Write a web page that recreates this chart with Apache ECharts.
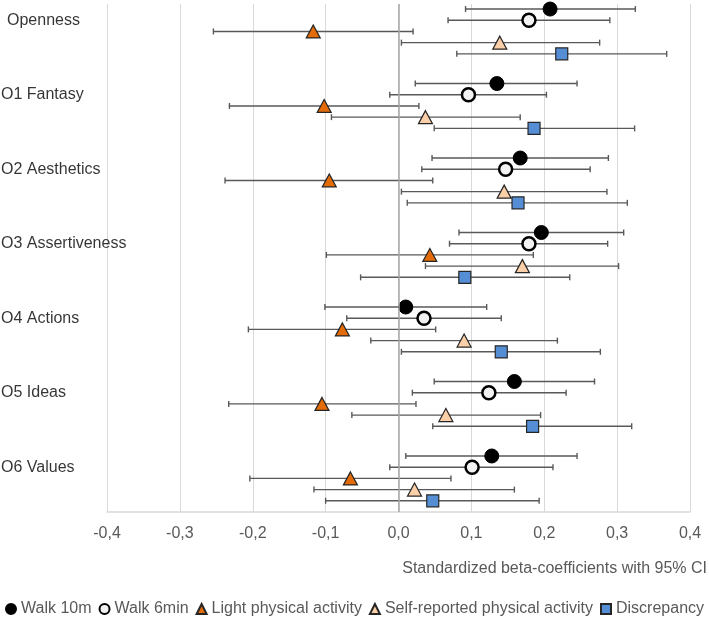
<!DOCTYPE html>
<html>
<head>
<meta charset="utf-8">
<script src="https://cdn.jsdelivr.net/npm/echarts@6/dist/echarts.min.js"></script>
<style>
html,body{margin:0;padding:0;background:#fff;}
#chart{width:709px;height:620px;}
</style>
</head>
<body>
<div id="chart"></div>
<script>
// ---- Data ----
var groups = ['Openness','O1 Fantasy','O2 Aesthetics','O3 Assertiveness','O4 Actions','O5 Ideas','O6 Values'];
var seriesNames = ['Walk 10m','Walk 6min','Light physical activity','Self-reported physical activity','Discrepancy'];

var walk10m      = [0.208, 0.135, 0.167, 0.196, 0.010, 0.159, 0.128];
var walk10mLow   = [0.092, 0.023, 0.046, 0.083, -0.101, 0.049, 0.010];
var walk10mHigh  = [0.325, 0.245, 0.288, 0.309, 0.121, 0.269, 0.245];

var walk6min     = [0.179, 0.096, 0.147, 0.179, 0.035, 0.124, 0.101];
var walk6minLow  = [0.068, -0.012, 0.032, 0.070, -0.071, 0.019, -0.012];
var walk6minHigh = [0.290, 0.203, 0.263, 0.287, 0.141, 0.230, 0.212];

var lightPA      = [-0.117, -0.102, -0.095, 0.043, -0.077, -0.105, -0.066];
var lightPALow   = [-0.254, -0.232, -0.238, -0.099, -0.206, -0.233, -0.204];
var lightPAHigh  = [0.020, 0.028, 0.047, 0.185, 0.051, 0.024, 0.072];

var selfPA       = [0.139, 0.037, 0.145, 0.170, 0.090, 0.065, 0.022];
var selfPALow    = [0.004, -0.092, 0.004, 0.037, -0.038, -0.064, -0.116];
var selfPAHigh   = [0.276, 0.167, 0.286, 0.302, 0.218, 0.195, 0.159];

var discrepancy     = [0.224, 0.186, 0.164, 0.091, 0.141, 0.184, 0.047];
var discrepancyLow  = [0.080, 0.049, 0.012, -0.052, 0.004, 0.047, -0.100];
var discrepancyHigh = [0.368, 0.324, 0.314, 0.235, 0.277, 0.320, 0.193];

var xTicks = [-0.4, -0.3, -0.2, -0.1, 0.0, 0.1, 0.2, 0.3, 0.4];

// ---- Build ----
var GROUP_STEP = 6.65;
function rowY(g, s) { return g * GROUP_STEP + s; }

var est = [walk10m, walk6min, lightPA, selfPA, discrepancy];
var lows = [walk10mLow, walk6minLow, lightPALow, selfPALow, discrepancyLow];
var highs = [walk10mHigh, walk6minHigh, lightPAHigh, selfPAHigh, discrepancyHigh];

var FONT = '"Liberation Sans", Arial, sans-serif';

var styles = [
  {symbol:'circle', size:14, itemStyle:{color:'#000000', borderColor:'#000000', borderWidth:1, opacity:1}},
  {symbol:'circle', size:13, itemStyle:{color:'#F2F2F2', borderColor:'#000000', borderWidth:2.5, opacity:1}},
  {symbol:'triangle', size:[14,13], itemStyle:{color:'#E36C09', borderColor:'#262626', borderWidth:1.2, opacity:1}},
  {symbol:'triangle', size:[14,13], itemStyle:{color:'#FBCFA8', borderColor:'#262626', borderWidth:1.2, opacity:1}},
  {symbol:'rect', size:12, itemStyle:{color:'#558ED5', borderColor:'#262626', borderWidth:1.2, opacity:1}}
];

var ciData = [];
for (var s = 0; s < 5; s++) {
  for (var g = 0; g < groups.length; g++) {
    ciData.push([lows[s][g], highs[s][g], rowY(g, s)]);
  }
}

var series = [];
series.push({
  name: 'CI',
  type: 'custom',
  z: 1,
  silent: true,
  data: ciData,
  encode: {x: [0, 1], y: 2},
  renderItem: function (params, api) {
    var y = api.value(2);
    var p1 = api.coord([api.value(0), y]);
    var p2 = api.coord([api.value(1), y]);
    var h = 3;
    var st = {stroke: '#595959', lineWidth: 1.4};
    return {
      type: 'group',
      children: [
        {type: 'line', shape: {x1: p1[0], y1: p1[1], x2: p2[0], y2: p2[1]}, style: st},
        {type: 'line', shape: {x1: p1[0], y1: p1[1] - h, x2: p1[0], y2: p1[1] + h}, style: st},
        {type: 'line', shape: {x1: p2[0], y1: p2[1] - h, x2: p2[0], y2: p2[1] + h}, style: st}
      ]
    };
  }
});

for (var s2 = 0; s2 < 5; s2++) {
  var d = [];
  for (var g2 = 0; g2 < groups.length; g2++) d.push([est[s2][g2], rowY(g2, s2)]);
  series.push({
    name: seriesNames[s2],
    type: 'scatter',
    z: 3,
    symbol: styles[s2].symbol,
    symbolSize: styles[s2].size,
    itemStyle: styles[s2].itemStyle,
    emphasis: {disabled: true},
    data: d
  });
}

// group labels
var labelData = groups.map(function (name, g) {
  var item = {value: [xTicks[0], rowY(g, 1)], name: name};
  if (g === 0) item.label = {padding: [0, 0, 0, 6]};
  return item;
});
series.push({
  name: 'groupLabels',
  type: 'scatter',
  symbolSize: 0,
  silent: true,
  z: 4,
  data: labelData,
  label: {
    show: true,
    position: [-106, 0],
    align: 'left',
    verticalAlign: 'middle',
    formatter: function (p) { return p.name; },
    fontFamily: FONT,
    fontSize: 16,
    color: '#000000'
  }
});

var chart = echarts.init(document.getElementById('chart'), null, {renderer: 'canvas'});
chart.setOption({
  animation: false,
  backgroundColor: '#ffffff',
  textStyle: {fontFamily: FONT},
  title: {
    text: 'Standardized beta-coefficients with 95% CI',
    right: 2,
    top: 561,
    padding: 0,
    textStyle: {fontFamily: FONT, fontSize: 16, fontWeight: 'normal', color: '#595959'}
  },
  legend: {
    data: seriesNames.map(function (n, i) {
      return {name: n, icon: styles[i].symbol};
    }),
    left: 5,
    top: 601,
    padding: 0,
    itemGap: 7,
    itemWidth: 10,
    itemHeight: 10,
    selectedMode: false,
    textStyle: {fontFamily: FONT, fontSize: 16, color: '#595959'}
  },
  grid: {left: 107, right: 19, top: 4, bottom: 108, containLabel: false},
  xAxis: {
    type: 'value',
    min: xTicks[0],
    max: xTicks[xTicks.length - 1],
    interval: 0.1,
    axisLine: {show: true, onZero: false, lineStyle: {color: '#D9D9D9', width: 1.5}},
    axisTick: {show: false},
    axisLabel: {
      margin: 14,
      fontFamily: FONT,
      fontSize: 16,
      color: '#595959',
      formatter: function (v) { return v.toFixed(1).replace('.', ','); }
    },
    splitLine: {show: true, lineStyle: {color: '#D9D9D9', width: 1}}
  },
  yAxis: {
    type: 'value',
    inverse: true,
    min: -0.45,
    max: 44.9,
    show: false,
    splitLine: {show: false}
  },
  series: series.concat([{
    type: 'line',
    silent: true,
    data: [],
    markLine: {
      silent: true,
      symbol: 'none',
      label: {show: false},
      lineStyle: {color: '#A6A6A6', width: 1.5, type: 'solid'},
      data: [{xAxis: 0}]
    },
    z: 0
  }])
});
</script>
</body>
</html>
